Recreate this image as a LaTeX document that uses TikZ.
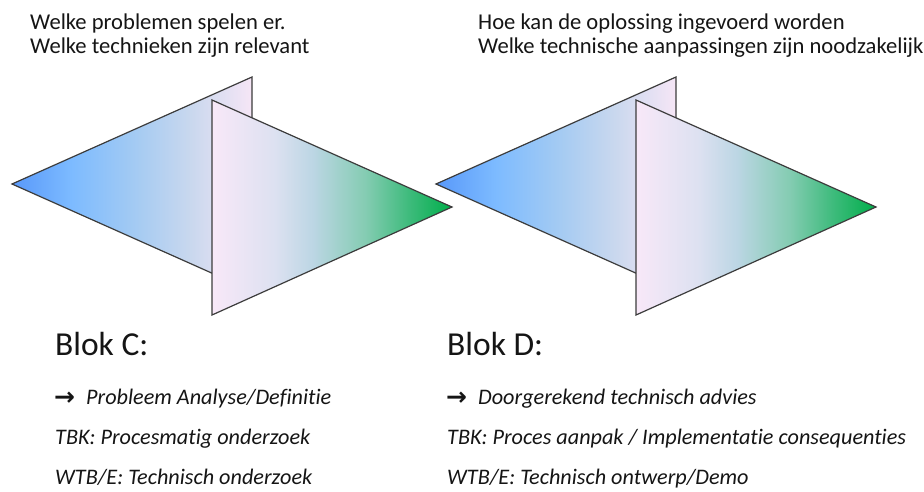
\documentclass[tikz,border=0pt]{standalone}
\usepackage{fontspec}
\setmainfont{Carlito}[Ligatures=NoCommon]
\newfontfamily\arrowfont{DejaVu Sans}
\definecolor{bA}{HTML}{5898FA}
\definecolor{bB}{HTML}{7DBBFF}
\definecolor{bC}{HTML}{A2CAF3}
\definecolor{bD}{HTML}{CAD8EE}
\definecolor{bE}{HTML}{F6E6F6}
\definecolor{fA}{HTML}{F8E8F8}
\definecolor{fB}{HTML}{DDE1F1}
\definecolor{fC}{HTML}{BCD6E4}
\definecolor{fD}{HTML}{84CCB2}
\definecolor{fE}{HTML}{3EBB7C}
\definecolor{fF}{HTML}{00AE4A}
\definecolor{edge}{HTML}{3C3C3C}
\definecolor{ink}{HTML}{151515}
\pgfdeclarehorizontalshading{backshade}{100bp}{color(0bp)=(bA); color(25bp)=(bA); color(37.5bp)=(bB); color(50bp)=(bC); color(62.5bp)=(bD); color(75bp)=(bE); color(100bp)=(bE)}
\pgfdeclarehorizontalshading{frontshade}{100bp}{color(0bp)=(fA); color(25bp)=(fA); color(38bp)=(fB); color(46bp)=(fC); color(57bp)=(fD); color(66bp)=(fE); color(75bp)=(fF); color(100bp)=(fF)}
\tikzset{
  backtri/.style={shading=backshade, draw=edge, line width=1.2pt, line join=miter},
  fronttri/.style={shading=frontshade, draw=edge, line width=1.2pt, line join=miter},
  toptext/.style={anchor=base west, inner sep=0pt, text=ink, font=\fontsize{22.6}{26}\selectfont},
  blok/.style={anchor=base west, inner sep=0pt, text=ink, font=\fontsize{33.5}{40}\selectfont},
  itl/.style={anchor=base west, inner sep=0pt, text=ink, font=\fontsize{22.2}{26}\selectfont\itshape},
  arr/.style={anchor=base west, inner sep=0pt, text=ink, font=\fontsize{25}{26}\arrowfont\bfseries},
}
\begin{document}
\begin{tikzpicture}[x=1pt,y=-1pt]
\useasboundingbox[fill=white] (0,0) rectangle (924,491);
\foreach \dx/\nm in {0/L,424/R}{
  \begin{scope}[xshift=\dx pt]
    \path[backtri] (12,184) coordinate (\nm tipA) -- (252,77) coordinate (\nm topA) -- (252,291) coordinate (\nm botA) -- cycle;
    \path[fronttri] (212,100) coordinate (\nm topB) -- (452,207) coordinate (\nm tipB) -- (212,315) coordinate (\nm botB) -- cycle;
  \end{scope}
}
% top texts
\node[toptext] (t1) at (30,29.5) {Welke problemen spelen er.};
\node[toptext] (t2) at (30,53) {Welke technieken zijn relevant};
\node[toptext] (t3) at (478,29.5) {Hoe kan de oplossing ingevoerd worden};
\node[toptext] (t4) at (478,53) {Welke technische aanpassingen zijn noodzakelijk};
% blocks
\node[blok] (bc) at (55,355) {Blok C:};
\node[blok] (bd) at (447,355) {Blok D:};
\node[arr] (a1) at (54,405) {→};
\node[itl] (c1) at (86,404) {Probleem Analyse/Definitie};
\node[itl] (c2) at (55,444) {TBK: Procesmatig onderzoek};
\node[itl] (c3) at (55,484) {WTB/E: Technisch onderzoek};
\node[arr] (a2) at (446,405) {→};
\node[itl] (d1) at (478,404) {Doorgerekend technisch advies};
\node[itl] (d2) at (447,444) {TBK: Proces aanpak / Implementatie consequenties};
\node[itl] (d3) at (447,484) {WTB/E: Technisch ontwerp/Demo};
\end{tikzpicture}
\end{document}
